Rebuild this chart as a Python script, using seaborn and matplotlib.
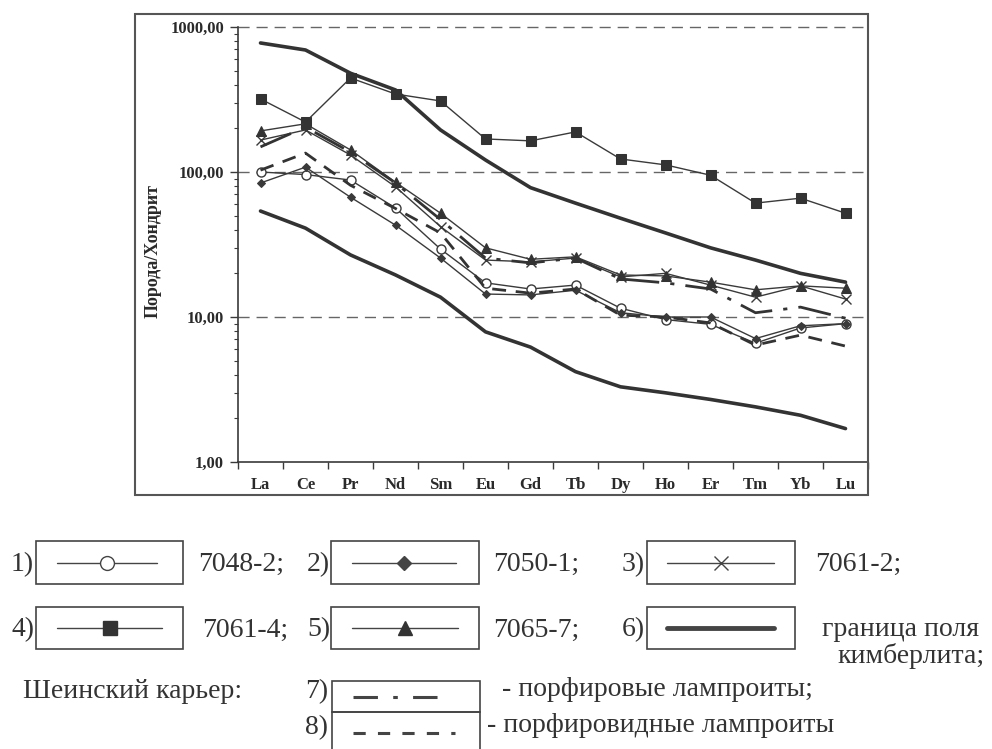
import numpy as np
import pandas as pd
import matplotlib
matplotlib.use("Agg")
import matplotlib.pyplot as plt
import seaborn as sns
from matplotlib.patches import Rectangle
from matplotlib.lines import Line2D
from matplotlib.ticker import LogLocator, FixedLocator, NullFormatter

# ---------------- data ----------------
elements = ["La", "Ce", "Pr", "Nd", "Sm", "Eu", "Gd", "Tb", "Dy", "Ho", "Er", "Tm", "Yb", "Lu"]

s7048_2 = [100, 96, 88, 56.5, 29.4, 17.2, 15.6, 16.6, 11.5, 9.6, 8.9, 6.6, 8.4, 9.0]
s7050_1 = [84, 108, 67, 43, 25.5, 14.4, 14.2, 15.3, 10.7, 10.0, 10.0, 7.1, 8.7, 9.0]
s7061_2 = [166, 195, 131, 79, 42, 24.7, 24, 25.5, 18.9, 20, 16.6, 13.7, 16.4, 13.3]
s7061_4 = [319, 221, 445, 345, 309, 169, 164, 189, 123, 112, 95, 61, 66, 52]
s7065_7 = [192, 215, 142, 85, 52, 30, 25, 26, 19.5, 19.2, 17.4, 15.4, 16.4, 15.8]
kimb_upper = [776, 694, 480, 368, 195, 121, 78, 61, 48, 38, 30, 24.7, 20, 17.4]
kimb_lower = [53.8, 41, 26.8, 19.5, 13.7, 7.9, 6.2, 4.2, 3.3, 3.0, 2.7, 2.4, 2.1, 1.7]
lamp_porph = [149, 204, 137, 84, 47, 25.5, 23.6, 25.5, 18.3, 17.2, 15.6, 10.7, 11.7, 9.8]
lamp_porphyritic = [103, 135, 81, 56, 38, 15.8, 14.6, 15.6, 10.3, 10.0, 9.1, 6.4, 7.5, 6.3]

series_names = ["7048-2", "7050-1", "7061-2", "7061-4", "7065-7",
                "kimb_upper", "kimb_lower", "lamp7", "lamp8"]
series_vals = [s7048_2, s7050_1, s7061_2, s7061_4, s7065_7,
               kimb_upper, kimb_lower, lamp_porph, lamp_porphyritic]

ytick_vals = [1, 10, 100, 1000]
ytick_labels = ["1,00", "10,00", "100,00", "1000,00"]

rows = []
for name, vals in zip(series_names, series_vals):
    for i, v in enumerate(vals):
        rows.append({"series": name, "idx": i, "value": v})
df = pd.DataFrame(rows)

# ---------------- style ----------------
sns.set_theme(style="ticks")
plt.rcParams['font.family'] = ['Liberation Serif', 'DejaVu Serif']

W, H = 992, 749
INK = "#3a3a3a"


def fx(x):
    return x / W


def fy(y):
    return 1 - y / H


fig = plt.figure(figsize=(W / 100, H / 100), dpi=100)
fig.patch.set_facecolor("white")

ax_left, ax_right, ax_top, ax_bot = 238, 868, 27, 462
ax = fig.add_axes([fx(ax_left), fy(ax_bot), (ax_right - ax_left) / W, (ax_bot - ax_top) / H])
ax.set_facecolor("white")

styles = {
    "7048-2": dict(color=INK, linewidth=1.0, marker="o", markersize=6.5,
                   markerfacecolor="white", markeredgecolor=INK, markeredgewidth=1.0),
    "7050-1": dict(color=INK, linewidth=1.0, marker="D", markersize=4.5,
                   markerfacecolor=INK, markeredgecolor=INK),
    "7061-2": dict(color=INK, linewidth=1.0, marker="x", markersize=6.5,
                   markeredgecolor=INK, markeredgewidth=1.0),
    "7061-4": dict(color=INK, linewidth=1.0, marker="s", markersize=6.5,
                   markerfacecolor="#333333", markeredgecolor="#333333"),
    "7065-7": dict(color=INK, linewidth=1.0, marker="^", markersize=6.5,
                   markerfacecolor="#333333", markeredgecolor="#333333"),
    "kimb_upper": dict(color="#333333", linewidth=2.6),
    "kimb_lower": dict(color="#333333", linewidth=2.6),
    "lamp7": dict(color="#333333", linewidth=2.0, linestyle=(0, (12, 4, 1.5, 4))),
    "lamp8": dict(color="#333333", linewidth=2.0, linestyle=(0, (5, 3.5))),
}

for name in series_names:
    sub = df[df["series"] == name]
    sns.lineplot(data=sub, x="idx", y="value", ax=ax, legend=False,
                 zorder=3, **styles[name])

ax.set_yscale("log")
ax.set_ylim(1, 1000)
ax.set_xlim(-0.5, len(elements) - 0.5)

ax.yaxis.set_major_locator(FixedLocator(ytick_vals))
ax.set_yticklabels(ytick_labels)
ax.yaxis.set_minor_locator(LogLocator(base=10, subs=np.arange(2, 10)))
ax.yaxis.set_minor_formatter(NullFormatter())

ax.set_xticks(range(len(elements)))
ax.set_xticklabels(elements)
ax.set_xticks(np.arange(-0.5, len(elements), 1.0), minor=True)

ax.tick_params(axis="y", which="major", direction="out", length=6, width=1,
               color=INK, labelsize=12, labelcolor="#2a2a2a", pad=4)
ax.tick_params(axis="y", which="minor", direction="out", length=3, width=0.8, color=INK)
ax.tick_params(axis="x", which="major", length=0, labelsize=12,
               labelcolor="#2a2a2a", pad=11)
ax.tick_params(axis="x", which="minor", direction="out", length=5, width=1, color=INK)
for lab in ax.get_xticklabels() + ax.get_yticklabels():
    lab.set_fontweight("bold")

ax.set_xlabel("")
ax.set_ylabel("")
ax.grid(False)
for yv in [10, 100, 1000]:
    ax.axhline(yv, color="#666666", linewidth=1.0, linestyle=(0, (8, 5)), zorder=1, clip_on=False)

for side in ["top", "right"]:
    ax.spines[side].set_visible(False)
for side in ["left", "bottom"]:
    ax.spines[side].set_color(INK)
    ax.spines[side].set_linewidth(1.2)

fig.text(fx(153), fy(251), "Порода/Хондрит", rotation=90, ha="center", va="center",
         fontsize=13, fontweight="bold", color="#2a2a2a")

# outer chart frame
fig.add_artist(Rectangle((fx(135), fy(495)), (868 - 135) / W, (495 - 14) / H,
                         transform=fig.transFigure, fill=False,
                         edgecolor="#555555", linewidth=1.5))

# ---------------- custom legend ----------------
TXT = "#333333"
FS = 20


def box(x0, y0, x1, y1):
    fig.add_artist(Rectangle((fx(x0), fy(y1)), (x1 - x0) / W, (y1 - y0) / H,
                             transform=fig.transFigure, fill=False,
                             edgecolor="#444444", linewidth=1.2, clip_on=False))


def sample_line(x0, x1, y, lw=1.0, ls="-", **mk):
    fig.add_artist(Line2D([fx(x0), fx(x1)], [fy(y), fy(y)], transform=fig.transFigure,
                          color="#444444", linewidth=lw, linestyle=ls))
    if mk:
        fig.add_artist(Line2D([fx((x0 + x1) / 2)], [fy(y)], transform=fig.transFigure,
                              linestyle="none", **mk))


def txt(x, y, s, ha="left"):
    fig.text(fx(x), fy(y), s, ha=ha, va="center", fontsize=FS, color=TXT)


# row 1
r1a, r1b = 541, 584
r1c = (r1a + r1b) / 2
box(36, r1a, 183, r1b)
box(331, r1a, 479, r1b)
box(647, r1a, 795, r1b)
txt(34, r1c + 2, "1)", ha="right")
txt(330, r1c + 2, "2)", ha="right")
txt(645, r1c + 2, "3)", ha="right")
txt(198, r1c + 2, "7048-2;")
txt(493, r1c + 2, "7050-1;")
txt(815, r1c + 2, "7061-2;")
sample_line(57, 157, r1c, marker="o", markersize=10, markerfacecolor="white",
            markeredgecolor="#444444", markeredgewidth=1.0)
sample_line(352, 456, r1c, marker="D", markersize=7.5, markerfacecolor="#444444",
            markeredgecolor="#444444")
sample_line(667, 774, r1c, marker="x", markersize=9.5, markeredgecolor="#444444",
            markeredgewidth=1.0)

# row 2
r2a, r2b = 607, 649
r2c = (r2a + r2b) / 2
box(36, r2a, 183, r2b)
box(331, r2a, 479, r2b)
box(647, r2a, 795, r2b)
txt(34, r2c + 2, "4)", ha="right")
txt(330, r2c + 2, "5)", ha="right")
txt(645, r2c + 2, "6)", ha="right")
txt(202, r2c + 2, "7061-4;")
txt(493, r2c + 2, "7065-7;")
txt(822, r2c + 2, "граница поля")
txt(837, 656, "кимберлита;")
sample_line(57, 162, r2c, marker="s", markersize=10, markerfacecolor="#333333",
            markeredgecolor="#333333")
sample_line(352, 458, r2c, marker="^", markersize=10, markerfacecolor="#333333",
            markeredgecolor="#333333")
sample_line(667, 774, r2c, lw=3.5)

# row 3
box(332, 681, 480, 712)
box(332, 712, 480, 760)
txt(23, 691, "Шеинский карьер:")
txt(328, 692, "7)", ha="right")
txt(328, 728, "8)", ha="right")
txt(502, 690, "- порфировые лампроиты;")
txt(487, 725, "- порфировидные лампроиты")
sample_line(353, 442, 697, lw=2.2, ls=(0, (8, 5, 1.5, 5)))
sample_line(353, 455, 733, lw=2.2, ls=(0, (4, 4)))

fig.savefig("out.png", dpi=100, facecolor="white")
